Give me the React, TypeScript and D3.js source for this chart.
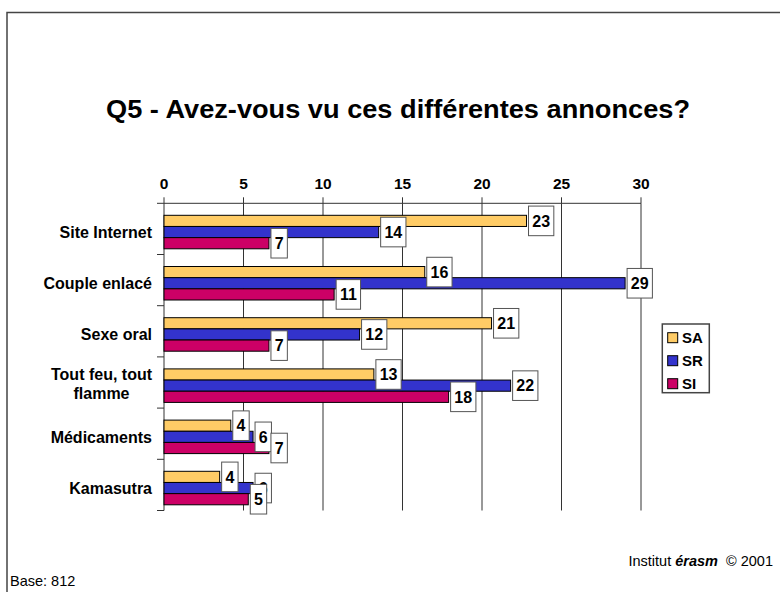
import React, { useEffect, useRef } from "react";
import * as d3 from "d3";

const categories = [
  "Site Internet",
  "Couple enlacé",
  "Sexe oral",
  "Tout feu, tout\nflamme",
  "Médicaments",
  "Kamasutra",
];
const seriesNames = ["SA", "SR", "SI"];
const saValues = [22.8, 16.4, 20.6, 13.2, 4.2, 3.5];
const srValues = [13.5, 29.0, 12.3, 21.8, 5.6, 5.6];
const siValues = [6.6, 10.7, 6.6, 17.9, 6.6, 5.3];
const seriesColors = ["#FFCC66", "#3333CC", "#CC0066"];
const xTicks = [0, 5, 10, 15, 20, 25, 30];
const titleText = "Q5 - Avez-vous vu ces différentes annonces?";
const baseText = "Base: 812";

const FONT = "'Liberation Sans', Arial, Helvetica, sans-serif";

export default function App() {
  const ref = useRef<SVGSVGElement>(null);

  useEffect(() => {
    const svg = d3.select(ref.current);
    svg.selectAll("*").remove();
    const values = [saValues, srValues, siValues];

    const x = d3.scaleLinear().domain([0, 30]).range([164, 641]);
    const y = d3.scaleBand<string>().domain(categories).range([203.3, 510.5]);
    const sub = d3.scaleBand<string>().domain(seriesNames).range([12, 45.5]);

    // frame
    svg
      .append("path")
      .attr("d", "M7,592 V12.5 H780")
      .attr("fill", "none")
      .attr("stroke", "#444")
      .attr("stroke-width", 1.5);

    // title
    svg
      .append("text")
      .attr("x", 398)
      .attr("y", 117.5)
      .attr("text-anchor", "middle")
      .attr("font-family", FONT)
      .attr("font-weight", "bold")
      .attr("font-size", 25)
      .attr("textLength", 584)
      .attr("lengthAdjust", "spacingAndGlyphs")
      .attr("fill", "#000")
      .text(titleText);

    const [y0, y1] = y.range();

    // gridlines
    svg
      .append("g")
      .selectAll("line")
      .data(xTicks.filter((t) => t > 0))
      .join("line")
      .attr("x1", (d) => x(d))
      .attr("x2", (d) => x(d))
      .attr("y1", y0)
      .attr("y2", y1)
      .attr("stroke", "#333")
      .attr("stroke-width", 1);

    // top axis line and ticks
    svg
      .append("line")
      .attr("x1", x(0))
      .attr("x2", x(30))
      .attr("y1", y0)
      .attr("y2", y0)
      .attr("stroke", "#333");
    svg
      .append("g")
      .selectAll("line")
      .data(xTicks)
      .join("line")
      .attr("x1", (d) => x(d))
      .attr("x2", (d) => x(d))
      .attr("y1", y0 - 6)
      .attr("y2", y0)
      .attr("stroke", "#333");
    svg
      .append("g")
      .selectAll("text")
      .data(xTicks)
      .join("text")
      .attr("x", (d) => x(d))
      .attr("y", 189.3)
      .attr("text-anchor", "middle")
      .attr("font-family", FONT)
      .attr("font-weight", "bold")
      .attr("font-size", 15.5)
      .text((d) => String(d));

    // left axis
    svg
      .append("line")
      .attr("x1", x(0))
      .attr("x2", x(0))
      .attr("y1", y0)
      .attr("y2", y1)
      .attr("stroke", "#333");
    const bounds = categories.map((c) => y(c) as number).concat([y1]);
    svg
      .append("g")
      .selectAll("line")
      .data(bounds)
      .join("line")
      .attr("x1", x(0) - 7)
      .attr("x2", x(0))
      .attr("y1", (d) => d)
      .attr("y2", (d) => d)
      .attr("stroke", "#333");

    // category labels
    const groupCenter = (c: string) =>
      (y(c) as number) + ((sub.range()[0] + sub.range()[1]) / 2);
    categories.forEach((c) => {
      const lines = c.split("\n");
      const g = svg.append("g");
      const lh = 19;
      const cy = groupCenter(c);
      if (lines.length === 1) {
        g.append("text")
          .attr("x", 152)
          .attr("y", cy + 5.8)
          .attr("text-anchor", "end")
          .attr("font-family", FONT)
          .attr("font-weight", "bold")
          .attr("font-size", 16)
          .text(lines[0]);
      } else {
        const t0 = g
          .append("text")
          .attr("x", 152)
          .attr("y", cy - lh / 2 + 5.8 - 2)
          .attr("text-anchor", "end")
          .attr("font-family", FONT)
          .attr("font-weight", "bold")
          .attr("font-size", 16)
          .text(lines[0]);
        const w = (t0.node() as SVGTextElement).getComputedTextLength();
        t0.attr("text-anchor", "middle").attr("x", 152 - w / 2);
        for (let i = 1; i < lines.length; i++) {
          g.append("text")
            .attr("x", 152 - w / 2)
            .attr("y", cy - lh / 2 + 5.8 - 2 + lh * i)
            .attr("text-anchor", "middle")
            .attr("font-family", FONT)
            .attr("font-weight", "bold")
            .attr("font-size", 16)
            .text(lines[i]);
        }
      }
    });

    // bars
    seriesNames.forEach((s, si) => {
      svg
        .append("g")
        .selectAll("rect")
        .data(categories.map((c, i) => ({ c, v: values[si][i] })))
        .join("rect")
        .attr("x", x(0))
        .attr("y", (d) => (y(d.c) as number) + (sub(s) as number))
        .attr("width", (d) => x(d.v) - x(0))
        .attr("height", sub.bandwidth())
        .attr("fill", seriesColors[si])
        .attr("stroke", "#000")
        .attr("stroke-width", 1);
    });

    // data labels
    seriesNames.forEach((s, si) => {
      categories.forEach((c, i) => {
        const v = values[si][i];
        const cy = (y(c) as number) + (sub(s) as number) + sub.bandwidth() / 2;
        const g = svg.append("g");
        const rect = g.append("rect");
        const t = g
          .append("text")
          .attr("font-family", FONT)
          .attr("font-weight", "bold")
          .attr("font-size", 16)
          .attr("text-anchor", "middle")
          .text(String(Math.round(v)));
        const w = (t.node() as SVGTextElement).getComputedTextLength() + 7.5;
        const bx = x(v) + 2;
        rect
          .attr("x", bx)
          .attr("y", cy - 14.8)
          .attr("width", w)
          .attr("height", 29.6)
          .attr("fill", "#fff")
          .attr("stroke", "#555")
          .attr("stroke-width", 1);
        t.attr("x", bx + w / 2).attr("y", cy + 5.8);
      });
    });

    // legend
    const lg = svg.append("g");
    lg.append("rect")
      .attr("x", 662.3)
      .attr("y", 324)
      .attr("width", 47)
      .attr("height", 68.7)
      .attr("fill", "#fff")
      .attr("stroke", "#444")
      .attr("stroke-width", 1.5);
    seriesNames.forEach((s, i) => {
      const ty = 332.7 + i * 23;
      lg.append("rect")
        .attr("x", 667.7)
        .attr("y", ty)
        .attr("width", 10)
        .attr("height", 10)
        .attr("fill", seriesColors[i])
        .attr("stroke", "#000")
        .attr("stroke-width", 1);
      lg.append("text")
        .attr("x", 682)
        .attr("y", ty + 10.2)
        .attr("font-family", FONT)
        .attr("font-weight", "bold")
        .attr("font-size", 15)
        .text(s);
    });

    // footer
    svg
      .append("text")
      .attr("x", 10)
      .attr("y", 586)
      .attr("font-family", FONT)
      .attr("font-size", 14.5)
      .text(baseText);
    const inst = svg
      .append("text")
      .attr("x", 773)
      .attr("y", 566)
      .attr("text-anchor", "end")
      .attr("font-family", FONT)
      .attr("font-size", 14.5);
    inst.append("tspan").text("Institut ");
    inst
      .append("tspan")
      .attr("font-weight", "bold")
      .attr("font-style", "italic")
      .text("érasm");
    inst.append("tspan").text("\u00a0 © 2001");
  }, []);

  return (
    <div style={{ position: "absolute", left: 0, top: 0 }}>
      <svg ref={ref} width={780} height={592} style={{ display: "block", background: "#fff" }} />
    </div>
  );
}
